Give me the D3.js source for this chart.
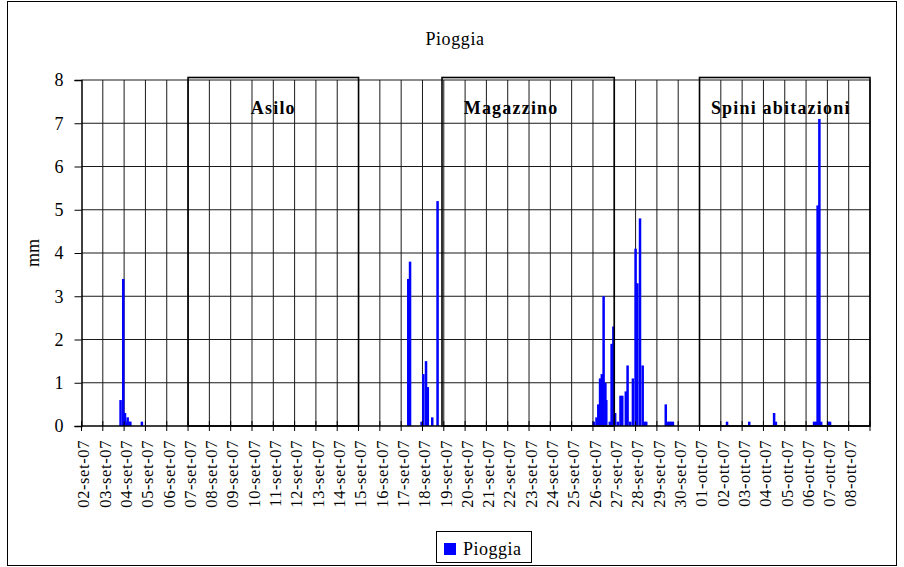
<!DOCTYPE html>
<html>
<head>
<meta charset="utf-8">
<script src="https://cdn.jsdelivr.net/npm/d3@7/dist/d3.min.js"></script>
<style>
  body { margin: 0; background: #fff; }
  svg text { font-family: "Liberation Serif", "Times New Roman", serif; fill: #000; }
</style>
</head>
<body>
<svg id="chart" width="904" height="567"></svg>
<script>
// rain readings (mm) and their timestamps
var rainTimes = [
  "2007-09-03 20:00", "2007-09-03 23:00", "2007-09-04 01:00", "2007-09-04 02:00",
  "2007-09-04 04:00", "2007-09-04 06:00", "2007-09-04 07:00", "2007-09-04 20:00",
  "2007-09-17 08:00", "2007-09-17 10:00", "2007-09-17 23:00", "2007-09-18 01:00",
  "2007-09-18 04:00", "2007-09-18 06:00", "2007-09-18 11:00", "2007-09-18 17:00",
  "2007-09-26 01:00", "2007-09-26 04:00", "2007-09-26 06:00", "2007-09-26 08:00",
  "2007-09-26 10:00", "2007-09-26 12:00", "2007-09-26 14:00", "2007-09-26 15:00",
  "2007-09-26 19:00", "2007-09-26 21:00", "2007-09-26 23:00", "2007-09-27 01:00",
  "2007-09-27 04:00", "2007-09-27 07:00", "2007-09-27 09:00", "2007-09-27 13:00",
  "2007-09-27 15:00", "2007-09-27 18:00", "2007-09-27 21:00", "2007-09-28 00:00",
  "2007-09-28 02:00", "2007-09-28 05:00", "2007-09-28 08:00", "2007-09-28 10:00",
  "2007-09-28 12:00", "2007-09-29 10:00", "2007-09-29 12:00", "2007-09-29 14:00",
  "2007-09-29 16:00", "2007-09-29 18:00",
  "2007-10-02 07:00", "2007-10-03 08:00", "2007-10-04 12:00", "2007-10-04 14:00",
  "2007-10-06 09:00", "2007-10-06 11:00", "2007-10-06 13:00", "2007-10-06 15:00",
  "2007-10-06 17:00", "2007-10-07 01:00", "2007-10-07 03:00"
];
var rainMm = [
  0.6, 3.4, 0.3, 0.1,
  0.2, 0.1, 0.1, 0.1,
  3.4, 3.8, 0.1, 1.2,
  1.5, 0.9, 0.2, 5.2,
  0.1, 0.2, 0.5, 1.1,
  1.2, 3.0, 1.0, 0.6,
  0.1, 1.9, 2.3, 0.3,
  0.1, 0.7, 0.7, 0.8,
  1.4, 0.1, 1.1, 4.1,
  3.3, 4.8, 1.4, 0.1,
  0.1, 0.5, 0.1, 0.1,
  0.1, 0.1,
  0.1, 0.1, 0.3, 0.1,
  0.1, 0.1, 5.1, 7.1,
  0.1, 0.1, 0.1
];

// the three site periods drawn as boxes
var zoneNames = ["Asilo", "Magazzino", "Spini abitazioni"];
var zoneStart = ["2007-09-07 00:00", "2007-09-18 22:00", "2007-10-01 00:00"];
var zoneEnd   = ["2007-09-15 00:00", "2007-09-27 00:00", "2007-10-09 00:00"];

var axisStart = "2007-09-02 00:00", axisEnd = "2007-10-09 00:00";
var yTicks = [0, 1, 2, 3, 4, 5, 6, 7, 8];
var mesi = ["gen", "feb", "mar", "apr", "mag", "giu", "lug", "ago", "set", "ott", "nov", "dic"];

(function() {

  var FONT = '"Liberation Serif", "Times New Roman", serif';
  var parse = d3.utcParse("%Y-%m-%d %H:%M");
  var it = d3.timeFormatLocale({
    dateTime: "%A %e %B %Y, %X", date: "%d/%m/%Y", time: "%H:%M:%S",
    periods: ["AM", "PM"],
    days: ["domenica","lunedì","martedì","mercoledì","giovedì","venerdì","sabato"],
    shortDays: ["dom","lun","mar","mer","gio","ven","sab"],
    months: ["gennaio","febbraio","marzo","aprile","maggio","giugno","luglio","agosto","settembre","ottobre","novembre","dicembre"],
    shortMonths: mesi
  });
  var fmtDay = it.utcFormat("%d-%b-%y");

  var rain = rainTimes.map(function(t, i) { return { t: parse(t), v: rainMm[i] }; });

  var svg = d3.select("#chart");

  // outer frame
  svg.append("rect")
    .attr("x", 7.5).attr("y", 1.5).attr("width", 889).attr("height", 564)
    .attr("fill", "none").attr("stroke", "#000").attr("stroke-width", 1);

  var pLeft = 81.5, pRight = 870, pTop = 80, pBottom = 426;

  var x = d3.scaleUtc().domain([parse(axisStart), parse(axisEnd)]).range([pLeft, pRight]);
  var y = d3.scaleLinear().domain([0, 8]).range([pBottom, pTop]);

  var days = d3.utcDay.range(parse(axisStart), d3.utcDay.offset(parse(axisEnd), 1));

  // grid
  svg.append("g").selectAll("line")
    .data(yTicks.slice(1))
    .enter().append("line")
    .attr("x1", pLeft).attr("x2", pRight)
    .attr("y1", function(d) { return y(d); }).attr("y2", function(d) { return y(d); })
    .attr("stroke", "#1a1a1a").attr("stroke-width", 1);

  svg.append("g").selectAll("line")
    .data(days.slice(1))
    .enter().append("line")
    .attr("x1", function(d) { return x(d); }).attr("x2", function(d) { return x(d); })
    .attr("y1", pTop).attr("y2", pBottom)
    .attr("stroke", "#1a1a1a").attr("stroke-width", 1);

  // bars
  var barW = 2.5;
  svg.append("g").selectAll("rect")
    .data(rain)
    .enter().append("rect")
    .attr("x", function(d) { return x(d.t) - barW / 2; })
    .attr("width", barW)
    .attr("y", function(d) { return y(d.v); })
    .attr("height", function(d) { return y(0) - y(d.v); })
    .attr("fill", "#0000ff");

  // site boxes
  var labelShift = [0, -17, -4];
  var zones = svg.append("g");
  zoneNames.forEach(function(name, i) {
    var x0 = x(parse(zoneStart[i])), x1 = x(parse(zoneEnd[i]));
    zones.append("rect")
      .attr("x", x0).attr("y", 77.5)
      .attr("width", x1 - x0).attr("height", pBottom - 77.5)
      .attr("fill", "none").attr("stroke", "#000").attr("stroke-width", 1.6);
    zones.append("text")
      .attr("x", (x0 + x1) / 2 + labelShift[i]).attr("y", 114)
      .attr("text-anchor", "middle")
      .style("font-family", FONT)
      .style("font-size", "18px").style("font-weight", "bold")
      .style("letter-spacing", "1.2px")
      .text(name);
  });

  // x axis with crossing ticks
  var xAxis = svg.append("g").attr("transform", "translate(0," + pBottom + ")");
  xAxis.append("line").attr("x1", pLeft).attr("x2", pRight).attr("stroke", "#000").attr("stroke-width", 1.5);
  xAxis.selectAll("line.tk")
    .data(days)
    .enter().append("line")
    .attr("class", "tk")
    .attr("x1", function(d) { return x(d); }).attr("x2", function(d) { return x(d); })
    .attr("y1", -5).attr("y2", 5)
    .attr("stroke", "#000");
  xAxis.selectAll("text")
    .data(days.slice(0, -1))
    .enter().append("text")
    .attr("transform", function(d) { return "translate(" + (x(d) + 2) + ",14) rotate(-90)"; })
    .attr("text-anchor", "end")
    .attr("dy", "0.35em")
    .style("font-family", FONT)
    .style("font-size", "16.5px")
    .style("letter-spacing", "0.6px")
    .text(function(d) { return fmtDay(d); });

  // y axis
  var yAxis = svg.append("g").attr("transform", "translate(" + pLeft + ",0)")
    .call(d3.axisLeft(y).tickValues(yTicks).tickSize(7).tickPadding(11).tickFormat(d3.format("d")));
  yAxis.select(".domain").attr("stroke", "#000").attr("stroke-width", 1.5);
  yAxis.selectAll("text").style("font-size", "18px").style("font-family", FONT);

  svg.append("text")
    .attr("transform", "translate(39," + ((pTop + pBottom) / 2) + ") rotate(-90)")
    .attr("text-anchor", "middle")
    .style("font-family", FONT)
    .style("font-size", "18px")
    .text("mm");

  svg.append("text")
    .attr("x", 455).attr("y", 45)
    .attr("text-anchor", "middle")
    .style("font-family", FONT)
    .style("font-size", "18px")
    .style("letter-spacing", "0.6px")
    .text("Pioggia");

  // legend
  var lg = svg.append("g").attr("transform", "translate(436,531)");
  lg.append("rect").attr("x", 0.5).attr("y", 0.5).attr("width", 95).attr("height", 31)
    .attr("fill", "#fff").attr("stroke", "#000");
  lg.append("rect").attr("x", 8).attr("y", 12).attr("width", 12).attr("height", 12).attr("fill", "#0000ff");
  lg.append("text").attr("x", 27).attr("y", 24)
    .style("font-family", FONT).style("font-size", "18px").style("letter-spacing", "0.5px").text("Pioggia");

})();
</script>
</body>
</html>
